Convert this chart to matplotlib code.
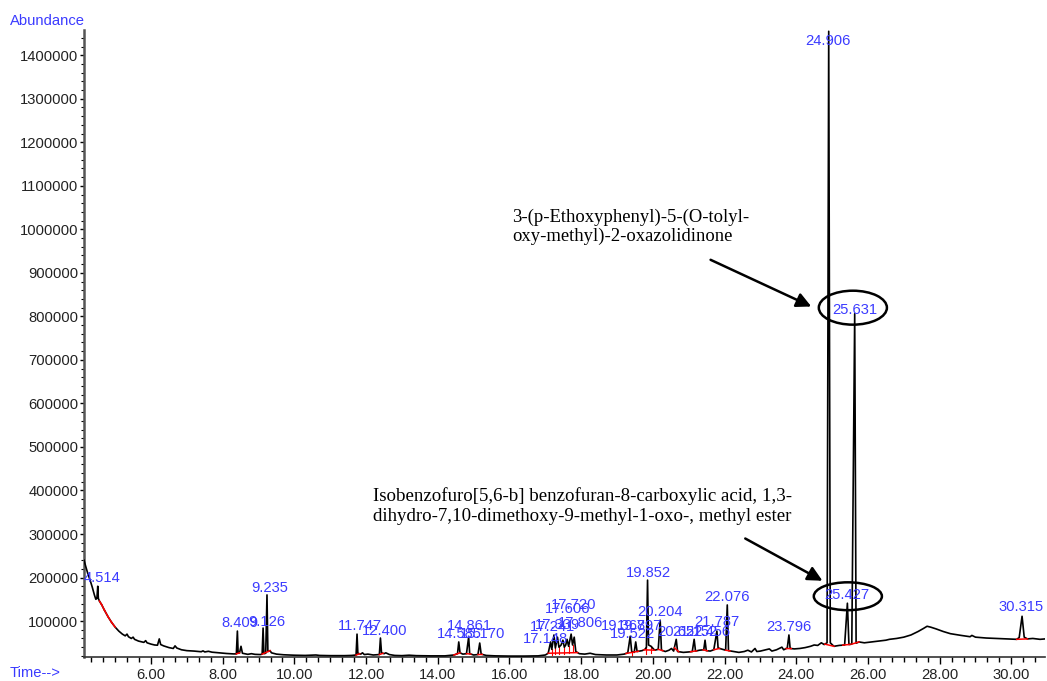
import matplotlib
matplotlib.use('Agg')
import matplotlib.pyplot as plt
import numpy as np
from matplotlib.patches import Ellipse
from matplotlib.ticker import MultipleLocator, FormatStrFormatter

# chromatogram trace (time in min, abundance)
time = [4.13, 4.18, 4.24, 4.30, 4.36, 4.42, 4.46, 4.49, 4.514, 4.53, 4.56, 4.62, 4.70, 4.80, 4.90,
        5.00, 5.10, 5.20, 5.28, 5.33, 5.37, 5.45, 5.50, 5.54, 5.65, 5.80, 5.85, 5.89, 6.00, 6.10,
        6.18, 6.23, 6.27, 6.35, 6.50, 6.62, 6.67, 6.72, 6.85, 7.00, 7.20, 7.40, 7.45, 7.50, 7.60,
        7.70, 7.90, 8.10, 8.30, 8.38, 8.409, 8.43, 8.47, 8.51, 8.55, 8.70, 8.80, 8.90, 9.05, 9.10,
        9.126, 9.15, 9.20, 9.235, 9.26, 9.32, 9.36, 9.50, 9.70, 10.00, 10.30, 10.60, 10.70, 11.00,
        11.40, 11.60, 11.72, 11.747, 11.77, 11.85, 11.90, 11.95, 12.05, 12.20, 12.37, 12.40, 12.43,
        12.50, 12.55, 12.65, 12.80, 13.00, 13.20, 13.40, 13.80, 14.20, 14.45, 14.55, 14.585, 14.62,
        14.70, 14.80, 14.861, 14.89, 15.00, 15.12, 15.17, 15.21, 15.35, 15.60, 16.00, 16.40, 16.80,
        17.00, 17.08, 17.148, 17.18, 17.241, 17.28, 17.339, 17.38, 17.44, 17.49, 17.53, 17.57,
        17.606, 17.65, 17.72, 17.76, 17.806, 17.85, 17.95, 18.10, 18.25, 18.40, 18.70, 19.00, 19.20,
        19.30, 19.368, 19.41, 19.48, 19.522, 19.56, 19.70, 19.78, 19.82, 19.852, 19.88, 19.95,
        20.05, 20.15, 20.204, 20.24, 20.35, 20.45, 20.52, 20.58, 20.652, 20.69, 20.85, 21.00, 21.10,
        21.152, 21.19, 21.30, 21.42, 21.456, 21.49, 21.60, 21.70, 21.787, 21.82, 21.95, 22.03,
        22.076, 22.11, 22.25, 22.40, 22.55, 22.65, 22.75, 22.85, 22.90, 23.00, 23.10, 23.25, 23.32,
        23.45, 23.60, 23.65, 23.75, 23.796, 23.83, 23.95, 24.10, 24.25, 24.40, 24.50, 24.60, 24.70,
        24.78, 24.86, 24.906, 24.95, 25.05, 25.20, 25.35, 25.427, 25.47, 25.55, 25.631, 25.67,
        25.75, 25.90, 26.10, 26.30, 26.50, 26.60, 26.80, 27.00, 27.20, 27.40, 27.55, 27.65, 27.75,
        27.90, 28.10, 28.30, 28.60, 28.85, 28.90, 29.00, 29.30, 29.60, 29.90, 30.15, 30.22, 30.30,
        30.36, 30.45, 30.60, 30.80, 30.95]
abundance = [240000, 225000, 208000, 194000, 178000, 160000, 150000, 152000, 180000, 152000, 146000,
             138000, 125000, 110000, 97000, 86000, 77000, 70000, 66000, 70000, 64000, 60000, 63000,
             58000, 54000, 51000, 55000, 50000, 47000, 45000, 44500, 59000, 46000, 43000, 39000,
             37000, 43000, 38000, 34000, 32000, 31000, 29500, 31500, 29000, 30500, 28500, 27000,
             25500, 24500, 24500, 77000, 26000, 27000, 42000, 26000, 23500, 25000, 23500, 23000,
             24000, 84000, 25000, 26000, 160000, 30000, 32000, 27000, 24000, 22500, 21500, 21000,
             22000, 21000, 20500, 20500, 21000, 22000, 70000, 26000, 24000, 27000, 23000, 24000,
             22000, 23000, 61000, 27000, 25000, 27000, 23000, 21000, 20500, 21500, 20500, 20000,
             20000, 22000, 25000, 52000, 27000, 24000, 25000, 63000, 25000, 22000, 23000, 49500,
             24000, 21000, 20000, 19500, 19500, 20000, 22000, 26000, 52000, 35000, 68000, 38000,
             63000, 40000, 45000, 56000, 40000, 45000, 58000, 42000, 70000, 45000, 63000, 30000,
             25000, 24000, 26000, 23000, 22000, 22000, 24000, 27000, 65000, 30000, 28000, 52000,
             30000, 32000, 35000, 40000, 194000, 45000, 42000, 33000, 35000, 102000, 33000, 30000,
             33000, 37000, 31000, 58000, 30000, 28000, 29000, 30000, 58000, 31000, 33000, 34000,
             56000, 32000, 31000, 34000, 77000, 38000, 35000, 33000, 137000, 32000, 30000, 28000,
             30000, 33000, 29000, 37000, 30000, 31000, 33000, 36000, 31000, 34000, 40000, 34000,
             38000, 68000, 37000, 36000, 37000, 39000, 42000, 45000, 44000, 50000, 46000, 50000,
             1455000, 50000, 42000, 44000, 45000, 141000, 46000, 47000, 806000, 49000, 52000, 50000,
             52000, 54000, 56000, 58000, 60000, 63000, 68000, 76000, 83000, 88000, 86000, 82000,
             76000, 71000, 67000, 64000, 67000, 63000, 61000, 60000, 59000, 58000, 62000, 111000,
             63000, 59000, 60000, 58000, 59000]

# integration baselines (start, end) in minutes
red_segments = [(4.56, 4.62), (4.62, 4.70), (4.70, 4.80), (4.80, 4.90), (4.90, 5.00),
                (8.38, 8.47), (9.10, 9.32), (11.72, 11.82), (12.37, 12.47), (14.45, 14.62),
                (14.80, 14.92), (15.12, 15.24), (17.08, 17.90), (19.25, 19.60), (19.75, 20.05),
                (20.15, 20.28), (20.60, 20.72), (21.05, 21.22), (21.40, 21.52), (21.70, 21.86),
                (22.03, 22.15), (23.72, 23.86), (24.80, 25.05), (25.30, 25.50), (25.55, 25.75),
                (30.15, 30.45)]
red_drops = [17.18, 17.28, 17.38, 17.53, 17.65, 17.76, 19.41, 19.82, 19.95]

peak_names = ['4.514', '8.409', '9.126', '9.235', '11.747', '12.400', '14.585', '14.861', '15.170',
              '17.148', '17.241', '17.339', '17.606', '17.720', '17.806', '19.368', '19.797',
              '19.522', '19.852', '20.204', '20.652', '21.152', '21.456', '21.787', '22.076',
              '23.796', '24.906', '25.631', '25.427', '30.315']
label_x = [4.63, 8.48, 9.24, 9.32, 11.82, 12.51, 14.59, 14.87, 15.26, 16.99, 17.19, 17.35, 17.63,
           17.80, 17.97, 19.17, 19.64, 19.42, 19.89, 20.20, 20.76, 21.17, 21.54, 21.79, 22.07,
           23.80, 24.88, 25.64, 25.41, 30.27]
label_y = [198600, 95400, 97700, 175700, 88500, 77000, 70200, 88500, 70200, 58700, 86200, 90800,
           127500, 136700, 95400, 88500, 88500, 70200, 210100, 120600, 74700, 74700, 74700, 97700,
           155000, 86200, 1433000, 815700, 159600, 132100]

blue = '#3b3bff'

fig = plt.figure(figsize=(10.47, 6.81), dpi=100)
ax = fig.add_axes([84 / 1047, 1 - 657 / 681, 961 / 1047, 627 / 681])

ax.plot(time, abundance, color='black', lw=1.2, zorder=3)

for t0, t1 in red_segments:
    ax.plot([t0, t1], [np.interp(t0, time, abundance), np.interp(t1, time, abundance)],
            color='red', lw=1.1, zorder=4)
for t in red_drops:
    a = np.interp(t, time, abundance)
    ax.plot([t, t], [a * 0.62, a], color='red', lw=0.8, zorder=2)

for name, lx, ly in zip(peak_names, label_x, label_y):
    ax.text(lx, ly, name, color=blue, fontsize=10.6, family='Liberation Sans',
            ha='center', va='center', zorder=5)

ax.set_xlim(4.13, 30.94)
ax.set_ylim(17400, 1458000)

ax.xaxis.set_major_locator(MultipleLocator(2))
ax.xaxis.set_minor_locator(MultipleLocator(1 / 3))
ax.xaxis.set_major_formatter(FormatStrFormatter('%.2f'))
ax.yaxis.set_minor_locator(MultipleLocator(20000))
ax.set_yticks(range(100000, 1400001, 100000))
ax.yaxis.set_major_formatter(FormatStrFormatter('%d'))

ax.tick_params(axis='x', which='major', length=5, width=1, pad=3, labelsize=10.6)
ax.tick_params(axis='x', which='minor', length=3.5, width=1)
ax.tick_params(axis='y', which='major', length=3, width=1, pad=1, labelsize=10.6)
ax.tick_params(axis='y', which='minor', length=2, width=0.8)
for lab in ax.get_xticklabels() + ax.get_yticklabels():
    lab.set_family('Liberation Sans')
    lab.set_color('#222222')

ax.spines['top'].set_visible(False)
ax.spines['right'].set_visible(False)
ax.spines['left'].set_color('#555555')
ax.spines['left'].set_linewidth(1.8)
ax.spines['bottom'].set_color('#333333')
ax.spines['bottom'].set_linewidth(1.2)

fig.text(10 / 1047, 1 - 21 / 681, 'Abundance', color=blue, fontsize=10.6,
         family='Liberation Sans', ha='left', va='center')
fig.text(10 / 1047, 1 - 673 / 681, 'Time-->', color=blue, fontsize=10.6,
         family='Liberation Sans', ha='left', va='center')

# compound annotations
ax.annotate('3-(p-Ethoxyphenyl)-5-(O-tolyl-\noxy-methyl)-2-oxazolidinone',
            xy=(16.07, 1006000), ha='left', va='center', fontsize=13.4,
            family='Liberation Serif', linespacing=1.18)
ax.annotate('', xy=(24.49, 820000), xytext=(21.54, 932700),
            arrowprops=dict(arrowstyle='-|>', color='black', lw=1.8, mutation_scale=22))
ax.annotate('Isobenzofuro[5,6-b] benzofuran-8-carboxylic acid, 1,3-\n'
            'dihydro-7,10-dimethoxy-9-methyl-1-oxo-, methyl ester',
            xy=(12.19, 363800), ha='left', va='center', fontsize=13.6,
            family='Liberation Serif', linespacing=1.27)
ax.annotate('', xy=(24.80, 189500), xytext=(22.51, 292700),
            arrowprops=dict(arrowstyle='-|>', color='black', lw=1.8, mutation_scale=22))

ax.add_patch(Ellipse((25.58, 820000), 1.90, 78000, fill=False, lw=1.8, color='black', zorder=6))
ax.add_patch(Ellipse((25.44, 157000), 1.90, 64000, fill=False, lw=1.8, color='black', zorder=6))

fig.savefig('out.png', dpi=100)
